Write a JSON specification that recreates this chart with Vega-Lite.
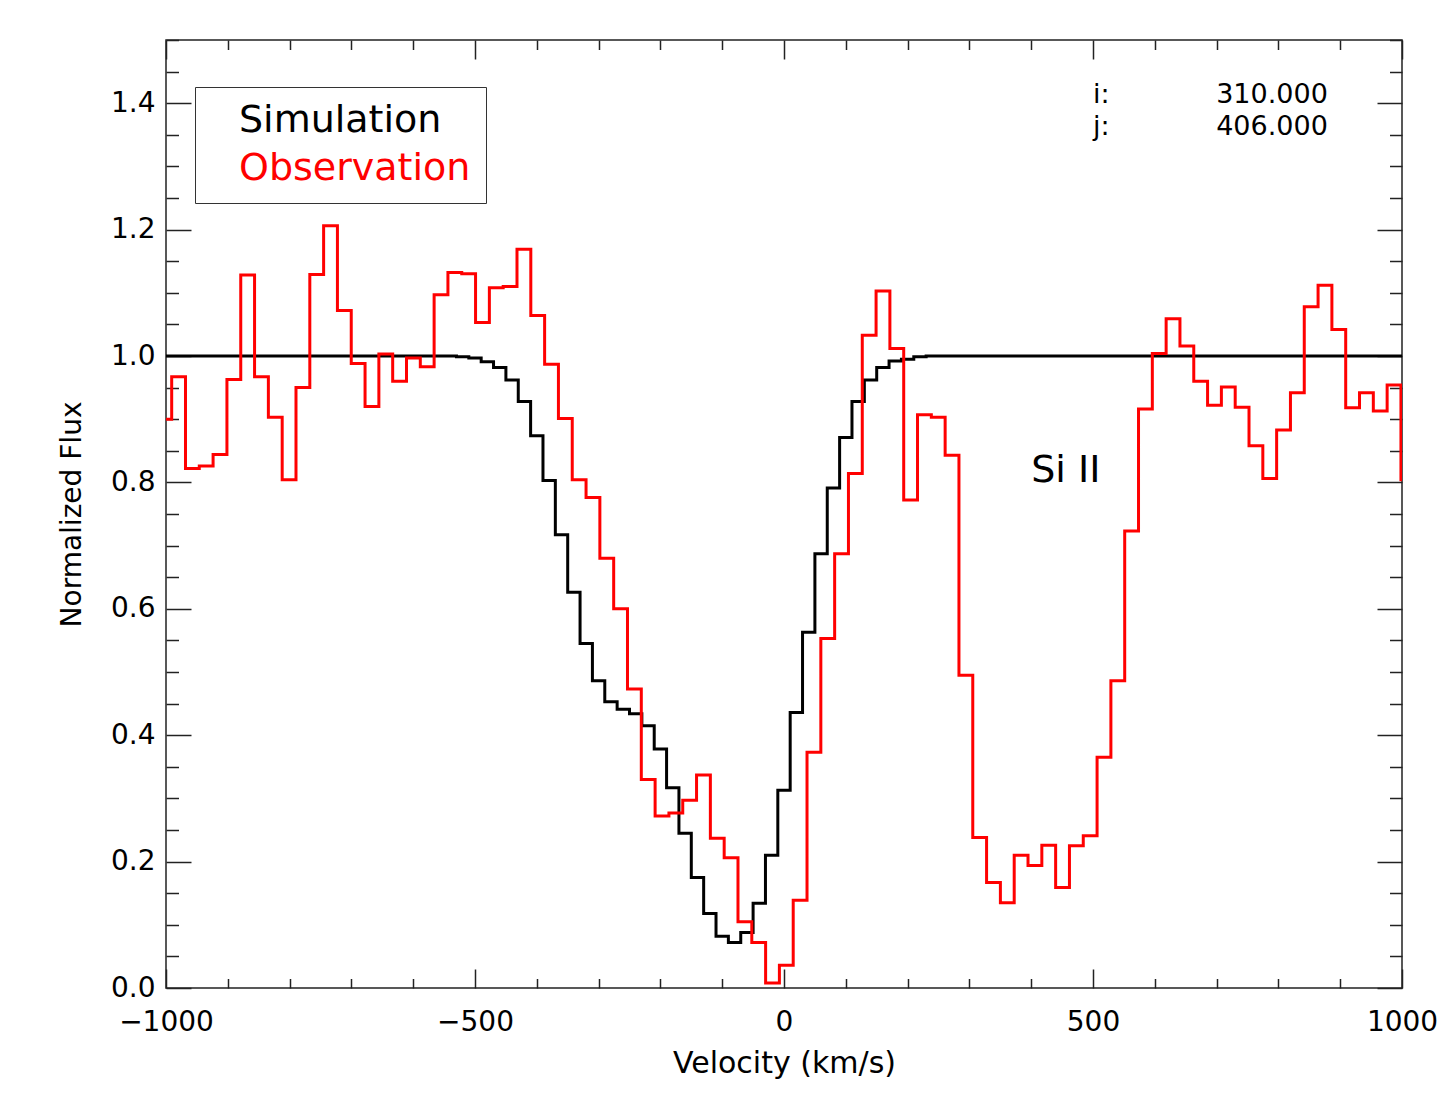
{
  "$schema": "https://vega.github.io/schema/vega-lite/v6.json",
  "width": 1236,
  "height": 948,
  "autosize": "none",
  "padding": {"left": 166, "top": 40, "right": 47, "bottom": 131},
  "background": "white",
  "config": {
    "font": "DejaVu Sans",
    "view": {"stroke": "#222222", "strokeWidth": 1.5}
  },
  "datasets": {
    "sim": [
      {"velocity": -1000, "flux": 1.0}, {"velocity": -980, "flux": 1.0}, {"velocity": -960, "flux": 1.0}, {"velocity": -940, "flux": 1.0},
      {"velocity": -920, "flux": 1.0}, {"velocity": -900, "flux": 1.0}, {"velocity": -880, "flux": 1.0}, {"velocity": -860, "flux": 1.0},
      {"velocity": -840, "flux": 1.0}, {"velocity": -820, "flux": 1.0}, {"velocity": -800, "flux": 1.0}, {"velocity": -780, "flux": 1.0},
      {"velocity": -760, "flux": 1.0}, {"velocity": -740, "flux": 1.0}, {"velocity": -720, "flux": 1.0}, {"velocity": -700, "flux": 1.0},
      {"velocity": -680, "flux": 1.0}, {"velocity": -660, "flux": 1.0}, {"velocity": -640, "flux": 1.0}, {"velocity": -620, "flux": 1.0},
      {"velocity": -600, "flux": 1.0}, {"velocity": -580, "flux": 1.0}, {"velocity": -560, "flux": 1.0}, {"velocity": -540, "flux": 1.0},
      {"velocity": -520, "flux": 0.999}, {"velocity": -500, "flux": 0.997}, {"velocity": -480, "flux": 0.991}, {"velocity": -460, "flux": 0.982},
      {"velocity": -440, "flux": 0.962}, {"velocity": -420, "flux": 0.928}, {"velocity": -400, "flux": 0.874}, {"velocity": -380, "flux": 0.803},
      {"velocity": -360, "flux": 0.717}, {"velocity": -340, "flux": 0.626}, {"velocity": -320, "flux": 0.545}, {"velocity": -300, "flux": 0.486},
      {"velocity": -280, "flux": 0.453}, {"velocity": -260, "flux": 0.441}, {"velocity": -240, "flux": 0.434}, {"velocity": -220, "flux": 0.415},
      {"velocity": -200, "flux": 0.378}, {"velocity": -180, "flux": 0.317}, {"velocity": -160, "flux": 0.245}, {"velocity": -140, "flux": 0.175},
      {"velocity": -120, "flux": 0.118}, {"velocity": -100, "flux": 0.082}, {"velocity": -80, "flux": 0.072}, {"velocity": -60, "flux": 0.088},
      {"velocity": -40, "flux": 0.134}, {"velocity": -20, "flux": 0.21}, {"velocity": 0, "flux": 0.313}, {"velocity": 20, "flux": 0.436},
      {"velocity": 40, "flux": 0.563}, {"velocity": 60, "flux": 0.687}, {"velocity": 80, "flux": 0.791}, {"velocity": 100, "flux": 0.871},
      {"velocity": 120, "flux": 0.928}, {"velocity": 140, "flux": 0.962}, {"velocity": 160, "flux": 0.982}, {"velocity": 180, "flux": 0.992},
      {"velocity": 200, "flux": 0.995}, {"velocity": 220, "flux": 0.999}, {"velocity": 240, "flux": 1.0}, {"velocity": 260, "flux": 1.0},
      {"velocity": 280, "flux": 1.0}, {"velocity": 300, "flux": 1.0}, {"velocity": 320, "flux": 1.0}, {"velocity": 340, "flux": 1.0},
      {"velocity": 360, "flux": 1.0}, {"velocity": 380, "flux": 1.0}, {"velocity": 400, "flux": 1.0}, {"velocity": 420, "flux": 1.0},
      {"velocity": 440, "flux": 1.0}, {"velocity": 460, "flux": 1.0}, {"velocity": 480, "flux": 1.0}, {"velocity": 500, "flux": 1.0},
      {"velocity": 520, "flux": 1.0}, {"velocity": 540, "flux": 1.0}, {"velocity": 560, "flux": 1.0}, {"velocity": 580, "flux": 1.0},
      {"velocity": 600, "flux": 1.0}, {"velocity": 620, "flux": 1.0}, {"velocity": 640, "flux": 1.0}, {"velocity": 660, "flux": 1.0},
      {"velocity": 680, "flux": 1.0}, {"velocity": 700, "flux": 1.0}, {"velocity": 720, "flux": 1.0}, {"velocity": 740, "flux": 1.0},
      {"velocity": 760, "flux": 1.0}, {"velocity": 780, "flux": 1.0}, {"velocity": 800, "flux": 1.0}, {"velocity": 820, "flux": 1.0},
      {"velocity": 840, "flux": 1.0}, {"velocity": 860, "flux": 1.0}, {"velocity": 880, "flux": 1.0}, {"velocity": 900, "flux": 1.0},
      {"velocity": 920, "flux": 1.0}, {"velocity": 940, "flux": 1.0}, {"velocity": 960, "flux": 1.0}, {"velocity": 980, "flux": 1.0},
      {"velocity": 1000, "flux": 1.0}
    ],
    "obs": [
      {"velocity": -1002.0, "flux": 0.9}, {"velocity": -979.6, "flux": 0.967}, {"velocity": -957.3, "flux": 0.822}, {"velocity": -935.0, "flux": 0.826},
      {"velocity": -912.6, "flux": 0.844}, {"velocity": -890.2, "flux": 0.963}, {"velocity": -867.9, "flux": 1.128}, {"velocity": -845.5, "flux": 0.967},
      {"velocity": -823.2, "flux": 0.903}, {"velocity": -800.8, "flux": 0.804}, {"velocity": -778.5, "flux": 0.95}, {"velocity": -756.1, "flux": 1.129},
      {"velocity": -733.8, "flux": 1.206}, {"velocity": -711.4, "flux": 1.072}, {"velocity": -689.1, "flux": 0.988}, {"velocity": -666.7, "flux": 0.92},
      {"velocity": -644.4, "flux": 1.003}, {"velocity": -622.0, "flux": 0.96}, {"velocity": -599.7, "flux": 0.997}, {"velocity": -577.3, "flux": 0.983},
      {"velocity": -555.0, "flux": 1.097}, {"velocity": -532.6, "flux": 1.132}, {"velocity": -510.3, "flux": 1.13}, {"velocity": -487.9, "flux": 1.053},
      {"velocity": -465.6, "flux": 1.108}, {"velocity": -443.2, "flux": 1.11}, {"velocity": -420.9, "flux": 1.169}, {"velocity": -398.5, "flux": 1.064},
      {"velocity": -376.2, "flux": 0.987}, {"velocity": -353.8, "flux": 0.901}, {"velocity": -331.5, "flux": 0.804}, {"velocity": -309.1, "flux": 0.776},
      {"velocity": -286.8, "flux": 0.68}, {"velocity": -264.4, "flux": 0.6}, {"velocity": -242.1, "flux": 0.473}, {"velocity": -219.7, "flux": 0.33},
      {"velocity": -197.4, "flux": 0.272}, {"velocity": -175.0, "flux": 0.277}, {"velocity": -152.7, "flux": 0.297}, {"velocity": -130.3, "flux": 0.337},
      {"velocity": -108.0, "flux": 0.237}, {"velocity": -85.6, "flux": 0.206}, {"velocity": -63.3, "flux": 0.105}, {"velocity": -40.9, "flux": 0.072},
      {"velocity": -18.6, "flux": 0.008}, {"velocity": 3.7, "flux": 0.036}, {"velocity": 26.1, "flux": 0.139}, {"velocity": 48.4, "flux": 0.373},
      {"velocity": 70.8, "flux": 0.553}, {"velocity": 93.1, "flux": 0.687}, {"velocity": 115.5, "flux": 0.814}, {"velocity": 137.8, "flux": 1.033},
      {"velocity": 160.2, "flux": 1.103}, {"velocity": 182.5, "flux": 1.012}, {"velocity": 204.9, "flux": 0.772}, {"velocity": 227.2, "flux": 0.907},
      {"velocity": 249.6, "flux": 0.903}, {"velocity": 271.9, "flux": 0.843}, {"velocity": 294.3, "flux": 0.495}, {"velocity": 316.6, "flux": 0.238},
      {"velocity": 339.0, "flux": 0.167}, {"velocity": 361.3, "flux": 0.135}, {"velocity": 383.7, "flux": 0.21}, {"velocity": 406.0, "flux": 0.194},
      {"velocity": 428.4, "flux": 0.226}, {"velocity": 450.7, "flux": 0.159}, {"velocity": 473.1, "flux": 0.225}, {"velocity": 495.4, "flux": 0.241},
      {"velocity": 517.8, "flux": 0.365}, {"velocity": 540.1, "flux": 0.486}, {"velocity": 562.5, "flux": 0.723}, {"velocity": 584.8, "flux": 0.916},
      {"velocity": 607.2, "flux": 1.004}, {"velocity": 629.5, "flux": 1.059}, {"velocity": 651.9, "flux": 1.016}, {"velocity": 674.2, "flux": 0.96},
      {"velocity": 696.6, "flux": 0.922}, {"velocity": 718.9, "flux": 0.951}, {"velocity": 741.3, "flux": 0.919}, {"velocity": 763.6, "flux": 0.858},
      {"velocity": 786.0, "flux": 0.806}, {"velocity": 808.3, "flux": 0.883}, {"velocity": 830.7, "flux": 0.942}, {"velocity": 853.0, "flux": 1.078},
      {"velocity": 875.4, "flux": 1.112}, {"velocity": 897.7, "flux": 1.042}, {"velocity": 920.1, "flux": 0.918}, {"velocity": 942.4, "flux": 0.942},
      {"velocity": 964.8, "flux": 0.913}, {"velocity": 987.1, "flux": 0.954}, {"velocity": 1009.5, "flux": 0.804}
    ],
    "ion": [{"label": "Si II", "velocity": 400, "flux": 0.8}],
    "pixel": [
      {"key": "i:", "value": "310.000", "flux": 1.4},
      {"key": "j:", "value": "406.000", "flux": 1.35}
    ]
  },
  "resolve": {"axis": {"x": "independent", "y": "independent"}},
  "layer": [
    {
      "data": {"name": "sim"},
      "mark": {"type": "line", "interpolate": "step", "clip": true, "strokeWidth": 3},
      "encoding": {
        "x": {
          "field": "velocity", "type": "quantitative",
          "scale": {"domain": [-1000, 1000], "nice": false, "zero": false},
          "axis": {
            "orient": "bottom",
            "values": [-1000, -900, -800, -700, -600, -500, -400, -300, -200, -100, 0, 100, 200, 300, 400, 500, 600, 700, 800, 900, 1000],
            "format": "d",
            "tickSize": {"expr": "datum.value % 500 === 0 ? -19 : -9.5"},
            "tickColor": "#222222", "tickWidth": 1.5,
            "domain": false, "grid": false,
            "labelExpr": "datum.value % 500 === 0 ? datum.label : ''",
            "labelFontSize": 28, "labelColor": "#000000",
            "labelPadding": 39, "labelFlush": false, "labelOverlap": false, "labelBound": false,
            "title": "Velocity (km/s)", "titleFontSize": 30, "titleFontWeight": "normal", "titleColor": "#000000", "titlePadding": 3
          }
        },
        "y": {
          "field": "flux", "type": "quantitative",
          "scale": {"domain": [0, 1.5], "nice": false, "zero": false},
          "axis": {
            "orient": "left",
            "values": [0, 0.05, 0.1, 0.15, 0.2, 0.25, 0.3, 0.35, 0.4, 0.45, 0.5, 0.55, 0.6, 0.65, 0.7, 0.75, 0.8, 0.85, 0.9, 0.95, 1.0, 1.05, 1.1, 1.15, 1.2, 1.25, 1.3, 1.35, 1.4, 1.45, 1.5],
            "tickSize": {"expr": "abs(datum.value * 5 - round(datum.value * 5)) < 0.001 ? -25 : -12.5"},
            "tickColor": "#222222", "tickWidth": 1.5,
            "domain": false, "grid": false,
            "labelExpr": "abs(datum.value * 5 - round(datum.value * 5)) < 0.001 && datum.value < 1.45 ? format(datum.value, '.1f') : ''",
            "labelFontSize": 28, "labelColor": "#000000",
            "labelPadding": 36, "labelFlush": false, "labelOverlap": false, "labelBound": false,
            "title": "Normalized Flux", "titleFontSize": 28, "titleFontWeight": "normal", "titleColor": "#000000", "titlePadding": 24
          }
        },
        "color": {
          "datum": "Simulation", "type": "nominal",
          "scale": {"domain": ["Simulation", "Observation"], "range": ["#000000", "#ff0000"]},
          "legend": {
            "orient": "none", "legendX": 29, "legendY": 47,
            "title": null,
            "symbolSize": 0, "symbolStrokeWidth": 0, "symbolOpacity": 0,
            "labelFontSize": 38, "labelLimit": 500, "labelOffset": -9,
            "labelColor": {"expr": "datum.value === 'Observation' ? '#ff0000' : '#000000'"},
            "rowPadding": 10, "padding": 15,
            "strokeColor": "#333333", "fillColor": "#ffffff"
          }
        }
      }
    },
    {
      "data": {"name": "obs"},
      "mark": {"type": "line", "interpolate": "step", "clip": true, "strokeWidth": 3},
      "encoding": {
        "x": {
          "field": "velocity", "type": "quantitative",
          "scale": {"domain": [-1000, 1000], "nice": false, "zero": false},
          "axis": {
            "orient": "top",
            "values": [-1000, -900, -800, -700, -600, -500, -400, -300, -200, -100, 0, 100, 200, 300, 400, 500, 600, 700, 800, 900, 1000],
            "tickSize": {"expr": "datum.value % 500 === 0 ? -19 : -9.5"},
            "tickColor": "#222222", "tickWidth": 1.5,
            "domain": false, "grid": false, "labels": false, "title": null
          }
        },
        "y": {
          "field": "flux", "type": "quantitative",
          "scale": {"domain": [0, 1.5], "nice": false, "zero": false},
          "axis": {
            "orient": "right",
            "values": [0, 0.05, 0.1, 0.15, 0.2, 0.25, 0.3, 0.35, 0.4, 0.45, 0.5, 0.55, 0.6, 0.65, 0.7, 0.75, 0.8, 0.85, 0.9, 0.95, 1.0, 1.05, 1.1, 1.15, 1.2, 1.25, 1.3, 1.35, 1.4, 1.45, 1.5],
            "tickSize": {"expr": "abs(datum.value * 5 - round(datum.value * 5)) < 0.001 ? -25 : -12.5"},
            "tickColor": "#222222", "tickWidth": 1.5,
            "domain": false, "grid": false, "labels": false, "title": null
          }
        },
        "color": {
          "datum": "Observation", "type": "nominal",
          "scale": {"domain": ["Simulation", "Observation"], "range": ["#000000", "#ff0000"]}
        }
      }
    },
    {
      "data": {"name": "ion"},
      "mark": {"type": "text", "align": "left", "baseline": "alphabetic", "fontSize": 38, "color": "#000000"},
      "encoding": {
        "x": {"field": "velocity", "type": "quantitative", "scale": {"domain": [-1000, 1000], "nice": false, "zero": false}, "axis": null},
        "y": {"field": "flux", "type": "quantitative", "scale": {"domain": [0, 1.5], "nice": false, "zero": false}, "axis": null},
        "text": {"field": "label"}
      }
    },
    {
      "data": {"name": "pixel"},
      "mark": {"type": "text", "align": "left", "baseline": "alphabetic", "fontSize": 27, "color": "#000000"},
      "encoding": {
        "x": {"datum": 500, "type": "quantitative", "scale": {"domain": [-1000, 1000], "nice": false, "zero": false}, "axis": null},
        "y": {"field": "flux", "type": "quantitative", "scale": {"domain": [0, 1.5], "nice": false, "zero": false}, "axis": null},
        "text": {"field": "key"}
      }
    },
    {
      "data": {"name": "pixel"},
      "mark": {"type": "text", "align": "right", "baseline": "alphabetic", "fontSize": 27, "color": "#000000"},
      "encoding": {
        "x": {"datum": 880, "type": "quantitative", "scale": {"domain": [-1000, 1000], "nice": false, "zero": false}, "axis": null},
        "y": {"field": "flux", "type": "quantitative", "scale": {"domain": [0, 1.5], "nice": false, "zero": false}, "axis": null},
        "text": {"field": "value"}
      }
    }
  ]
}
